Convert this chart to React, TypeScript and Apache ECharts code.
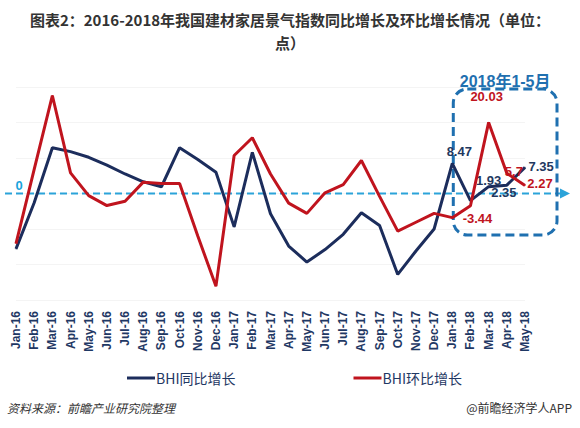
import React, { useEffect, useRef } from "react";
import * as echarts from "echarts";

const categories = [
  "Jan-16", "Feb-16", "Mar-16", "Apr-16", "May-16", "Jun-16", "Jul-16", "Aug-16", "Sep-16", "Oct-16", "Nov-16", "Dec-16",
  "Jan-17", "Feb-17", "Mar-17", "Apr-17", "May-17", "Jun-17", "Jul-17", "Aug-17", "Sep-17", "Oct-17", "Nov-17", "Dec-17",
  "Jan-18", "Feb-18", "Mar-18", "Apr-18", "May-18",
];

const yoyValues = [
  -15.6, -2.6, 12.9, 11.8, 10.2, 8.0, 5.5, 3.3, 1.9, 12.9, 9.6, 6.0,
  -9.4, 11.6, -5.7, -14.8, -19.3, -15.8, -11.5, -5.4, -9.0, -22.8, -16.2, -10.0,
  8.47, -2.0, 1.93, 2.35, 7.35,
];

const momValues = [
  -14.1, 6.8, 27.6, 5.8, -0.6, -3.4, -2.2, 3.2, 2.8, 2.8, -12.0, -26.1,
  10.7, 15.7, 5.5, -2.7, -5.6, 0.2, 2.5, 9.3, -0.8, -10.6, -8.1, -5.6,
  -6.8, -3.44, 20.03, 5.7, 2.27,
];

const seriesNames = ["BHI同比增长", "BHI环比增长"];
const yTicks = { min: -30, max: 30, interval: 10 };

const TITLE_LINE1 = "图表2：2016-2018年我国建材家居景气指数同比增长及环比增长情况（单位：";
const TITLE_LINE2 = "点）";
const BOX_TITLE = "2018年1-5月";
const SOURCE = "资料来源：前瞻产业研究院整理";
const CREDIT = "@前瞻经济学人APP";

const BLUE = "#1c2d5c";
const RED = "#c0141e";
const BLUE_LABEL = "#22385f";
const ZERO_BLUE = "#2ba3d9";
const BOX_BLUE = "#1f70b0";

// label placement for the 2018 points (index -> label style)
const yoyLabels: Record<number, any> = {
  24: { position: "top", offset: [7, 0] },
  26: { position: "top", offset: [0, 6] },
  27: { position: "bottom", offset: [-3, -5] },
  28: { position: "right", offset: [-2, -1] },
};
const momLabels: Record<number, any> = {
  25: { position: "bottom", offset: [7, 1] },
  26: { position: "top", offset: [-2, -14] },
  27: { position: "top", offset: [7, 10] },
  28: { position: "top", offset: [15, 10] },
};

function buildData(values: number[], labels: Record<number, any>, color: string) {
  return values.map((v, i) => {
    const l = labels[i];
    if (!l) return { value: v, label: { show: false } };
    return {
      value: v,
      label: {
        show: true,
        position: l.position,
        offset: l.offset,
        distance: 5,
        color,
        fontSize: 13,
        fontWeight: "bold",
        fontFamily: "Liberation Sans, Arial, sans-serif",
        formatter: String(v),
      },
    };
  });
}

export default function App() {
  const ref = useRef<HTMLDivElement>(null);

  useEffect(() => {
    if (!ref.current) return;
    const chart = echarts.init(ref.current, null, { renderer: "svg" });
    const option: any = {
      animation: false,
      backgroundColor: "#ffffff",
      grid: { left: 16, right: 55, top: 87, bottom: 128, containLabel: false },
      legend: {
        data: seriesNames,
        left: 127,
        top: 371,
        padding: 0,
        icon: "rect",
        itemWidth: 28,
        itemHeight: 3,
        itemGap: 118,
        textStyle: {
          fontSize: 14,
          color: "#1f3864",
          fontFamily: "Noto Sans CJK SC",
          padding: [0, 0, 0, -4],
        },
      },
      xAxis: {
        type: "category",
        data: categories,
        boundaryGap: false,
        axisLine: { show: false },
        axisTick: { show: false },
        splitLine: { show: false },
        axisLabel: {
          rotate: 90,
          interval: 0,
          margin: 11,
          color: "#1f3864",
          fontSize: 12,
          fontWeight: "bold",
          fontFamily: "Liberation Sans, Arial, sans-serif",
        },
      },
      yAxis: {
        type: "value",
        min: yTicks.min,
        max: yTicks.max,
        interval: yTicks.interval,
        axisLine: { show: false },
        axisTick: { show: false },
        axisLabel: { show: false },
        splitLine: { show: true, lineStyle: { color: "#f4f4f4", width: 1 } },
      },
      series: [
        {
          name: seriesNames[0],
          type: "line",
          data: buildData(yoyValues, yoyLabels, BLUE_LABEL),
          showSymbol: true,
          symbol: "circle",
          symbolSize: 1,
          lineStyle: { color: BLUE, width: 3 },
          itemStyle: { color: BLUE },
          z: 3,
        },
        {
          name: seriesNames[1],
          type: "line",
          data: buildData(momValues, momLabels, RED),
          showSymbol: true,
          symbol: "circle",
          symbolSize: 1,
          lineStyle: { color: RED, width: 3 },
          itemStyle: { color: RED },
          z: 4,
        },
      ],
    };
    chart.setOption(option);

    const y0 = chart.convertToPixel({ yAxisIndex: 0 }, 0) as number;
    const xJan18 = chart.convertToPixel({ xAxisIndex: 0 }, "Jan-18") as number;
    const xMay18 = chart.convertToPixel({ xAxisIndex: 0 }, "May-18") as number;
    const boxLeft = xJan18 + 1;
    const boxRight = xMay18 + 32;
    const boxTop = 89;
    const boxBottom = 235;

    chart.setOption({
      graphic: [
        {
          type: "text",
          left: "center",
          top: 12,
          style: {
            text: TITLE_LINE1,
            fill: "#333333",
            fontSize: 15,
            fontWeight: "bold",
            fontFamily: "Noto Sans CJK SC",
          },
        },
        {
          type: "text",
          left: "center",
          top: 35,
          style: {
            text: TITLE_LINE2,
            fill: "#333333",
            fontSize: 15,
            fontWeight: "bold",
            fontFamily: "Noto Sans CJK SC",
          },
        },
        {
          type: "line",
          shape: { x1: 5, y1: y0, x2: 562, y2: y0 },
          style: { stroke: ZERO_BLUE, lineWidth: 2, lineDash: [7, 4] },
          z: 1,
        },
        {
          type: "polygon",
          shape: { points: [[560, y0 - 5], [570, y0], [560, y0 + 5]] },
          style: { fill: ZERO_BLUE },
          z: 1,
        },
        {
          type: "text",
          x: 19,
          y: y0 - 8,
          style: {
            text: "0",
            fill: "#1aa3dc",
            fontSize: 13,
            fontWeight: "bold",
            fontFamily: "Liberation Sans, Arial, sans-serif",
            align: "center",
            verticalAlign: "middle",
          },
        },
        {
          type: "rect",
          shape: { x: boxLeft, y: boxTop, width: boxRight - boxLeft, height: boxBottom - boxTop, r: 14 },
          style: { fill: "none", stroke: BOX_BLUE, lineWidth: 3, lineDash: [9, 5] },
          z: 2,
        },
        {
          type: "text",
          x: (boxLeft + boxRight) / 2,
          y: 81,
          style: {
            text: BOX_TITLE,
            fill: BOX_BLUE,
            fontSize: 16,
            fontWeight: "bold",
            fontFamily: "Liberation Sans, Noto Sans CJK SC, sans-serif",
            align: "center",
            verticalAlign: "middle",
          },
        },
        {
          type: "text",
          x: 7,
          y: 407,
          style: {
            text: SOURCE,
            fill: "#333333",
            fontSize: 12,
            fontStyle: "italic",
            fontFamily: "Noto Sans CJK SC",
            verticalAlign: "middle",
          },
        },
        {
          type: "text",
          x: 572,
          y: 407,
          style: {
            text: CREDIT,
            fill: "#333333",
            fontSize: 12,
            fontFamily: "Noto Sans CJK SC",
            align: "right",
            verticalAlign: "middle",
          },
        },
      ],
    });

    return () => chart.dispose();
  }, []);

  return (
    <div
      ref={ref}
      style={{ position: "fixed", left: 0, top: 0, width: 580, height: 428, background: "#fff" }}
    />
  );
}
